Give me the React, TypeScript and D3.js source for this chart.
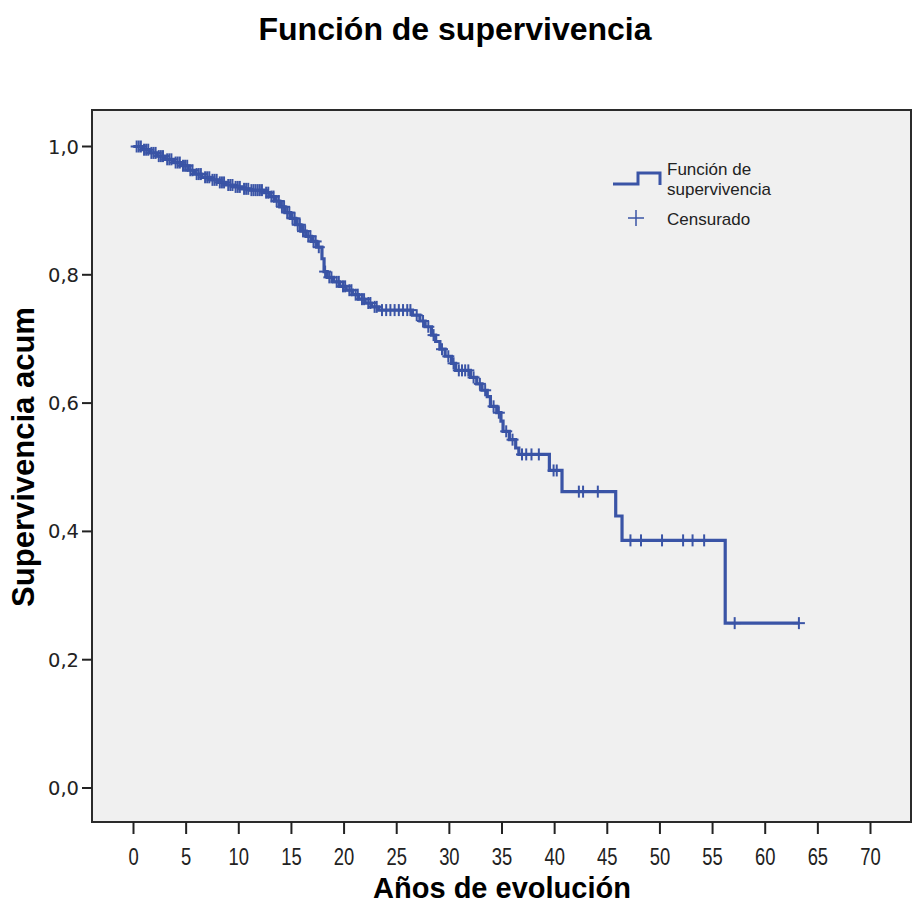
import React, { useEffect, useRef } from 'react';
import * as d3 from 'd3';

// Kaplan-Meier steps: time of event and survival right after it
const stepTimes = [
  0.8, 1.5, 2.2, 3.0, 3.8, 4.5, 5.2, 5.8, 6.5, 7.3, 8.0, 8.8, 9.5, 10.3, 11.0,
  12.4, 12.9, 13.4, 13.9, 14.4, 14.9, 15.4, 15.9, 16.4, 16.9, 17.4, 17.9, 18.1, 18.4,
  19.0, 19.6, 20.2, 20.8, 21.4, 22.0, 22.6, 23.3, 26.5, 27.2, 27.7, 28.3, 28.7, 29.1,
  29.6, 30.2, 30.6, 32.0, 32.6, 33.1, 33.6, 33.9, 34.5, 34.9, 35.1, 35.7, 36.3, 36.6,
  39.5, 40.7, 45.8, 46.4, 56.2,
];
const stepSurv = [
  0.995, 0.99, 0.985, 0.98, 0.975, 0.97, 0.963, 0.957, 0.952, 0.948, 0.944, 0.94, 0.937, 0.934, 0.932,
  0.928, 0.922, 0.915, 0.906, 0.897, 0.888, 0.878, 0.868, 0.86, 0.852, 0.843, 0.825, 0.805, 0.796,
  0.789, 0.782, 0.776, 0.769, 0.762, 0.756, 0.75, 0.745, 0.737, 0.728, 0.719, 0.706, 0.696, 0.684,
  0.673, 0.662, 0.651, 0.64, 0.63, 0.62, 0.61, 0.595, 0.585, 0.572, 0.556, 0.543, 0.53, 0.52,
  0.495, 0.462, 0.424, 0.386, 0.257,
];
// censored cases (years)
const censorTimes = [
  0.3, 0.5, 0.7, 1.0, 1.2, 1.4, 1.7, 1.9, 2.1, 2.4, 2.6, 2.8, 3.2, 3.4, 3.6, 4.0, 4.2, 4.4,
  4.7, 4.9, 5.1, 5.4, 5.6, 6.0, 6.2, 6.4, 6.8, 7.0, 7.2, 7.5, 7.7, 7.9, 8.2, 8.4, 8.6, 9.0,
  9.2, 9.4, 9.7, 9.9, 10.1, 10.5, 10.7, 10.9, 11.2, 11.4, 11.6, 11.8, 12.0, 12.2, 12.6,
  12.8, 13.1, 13.3, 13.6, 13.8, 14.1, 14.3, 14.6, 14.8, 15.1, 15.3, 15.6, 15.8, 16.1, 16.3,
  16.6, 16.8, 17.1, 17.3, 17.6, 18.2, 18.6, 18.8, 19.3, 19.5, 19.9, 20.1, 20.5, 20.7, 21.1,
  21.3, 21.7, 21.9, 22.3, 22.5, 22.9, 23.1, 23.6, 24.0, 24.4, 24.8, 25.2, 25.6, 26.0, 26.3,
  26.9, 27.5, 28.0, 28.5, 29.3, 29.9, 30.4, 30.9, 31.2, 31.5, 31.8, 32.3, 32.9, 33.4, 34.2,
  34.7, 35.4, 36.0, 36.9, 37.3, 37.8, 38.5, 39.9, 40.2, 42.3, 42.7, 44.1, 47.2, 48.2, 50.2,
  52.2, 53.1, 54.2, 57.1, 63.2,
];
const lastTime = 63.2;

const xTicks = [0, 5, 10, 15, 20, 25, 30, 35, 40, 45, 50, 55, 60, 65, 70];
const yTicks = [0, 0.2, 0.4, 0.6, 0.8, 1.0];

const title = 'Función de supervivencia';
const xTitle = 'Años de evolución';
const yTitle = 'Supervivencia acum';
const legendLine = ['Función de', 'supervivencia'];
const legendCensor = 'Censurado';

const blue = '#3a54a6';

const App = () => {
  const ref = useRef<SVGSVGElement | null>(null);

  useEffect(() => {
    const svg = d3.select(ref.current);
    svg.selectAll('*').remove();

    const frame = { left: 92, right: 911, top: 110, bottom: 822 };
    const x = d3.scaleLinear().domain([0, 70]).range([133.5, 870.5]);
    const y = d3.scaleLinear().domain([0, 1]).range([788, 146.5]);

    svg.append('rect').attr('width', 914).attr('height', 910).attr('fill', '#fff');

    // plot background + frame
    svg.append('rect')
      .attr('x', frame.left).attr('y', frame.top)
      .attr('width', frame.right - frame.left).attr('height', frame.bottom - frame.top)
      .attr('fill', '#f0f0f0').attr('stroke', '#2b2b2b').attr('stroke-width', 2);

    // y ticks
    const yAxis = svg.append('g');
    yTicks.forEach(v => {
      yAxis.append('line')
        .attr('x1', frame.left - 10).attr('x2', frame.left)
        .attr('y1', y(v)).attr('y2', y(v))
        .attr('stroke', '#222').attr('stroke-width', 2);
      yAxis.append('text')
        .attr('x', 79).attr('y', y(v) + 7)
        .attr('text-anchor', 'end')
        .style('font-family', '"DejaVu Sans", sans-serif')
        .style('font-size', '19.5px')
        .attr('fill', '#222')
        .text(d3.format('.1f')(v).replace('.', ','));
    });

    // x ticks
    const xAxis = svg.append('g');
    xTicks.forEach(v => {
      xAxis.append('line')
        .attr('x1', x(v)).attr('x2', x(v))
        .attr('y1', frame.bottom).attr('y2', frame.bottom + 12)
        .attr('stroke', '#222').attr('stroke-width', 2);
      xAxis.append('text')
        .attr('transform', `translate(${x(v)},865) scale(0.8,1)`)
        .attr('text-anchor', 'middle')
        .style('font-family', '"Liberation Sans", Arial, sans-serif')
        .style('font-size', '23px')
        .attr('fill', '#222')
        .text(String(v));
    });

    // titles
    svg.append('text')
      .attr('x', 455).attr('y', 40)
      .attr('text-anchor', 'middle')
      .style('font-family', '"Liberation Sans", Arial, sans-serif')
      .style('font-size', '32px').style('font-weight', 'bold')
      .text(title);

    svg.append('text')
      .attr('x', 502).attr('y', 898)
      .attr('text-anchor', 'middle')
      .style('font-family', '"Liberation Sans", Arial, sans-serif')
      .style('font-size', '29px').style('font-weight', 'bold')
      .text(xTitle);

    svg.append('text')
      .attr('transform', 'translate(34,457) rotate(-90)')
      .attr('text-anchor', 'middle')
      .style('font-family', '"Liberation Sans", Arial, sans-serif')
      .style('font-size', '31px').style('font-weight', 'bold')
      .text(yTitle);

    // survival curve
    const pts: [number, number][] = [[0, 1]];
    stepTimes.forEach((t, i) => pts.push([t, stepSurv[i]]));
    pts.push([lastTime, stepSurv[stepSurv.length - 1]]);

    const line = d3.line<[number, number]>()
      .x(d => x(d[0]))
      .y(d => y(d[1]))
      .curve(d3.curveStepAfter);

    svg.append('path')
      .datum(pts)
      .attr('d', line)
      .attr('fill', 'none')
      .attr('stroke', blue)
      .attr('stroke-width', 3.2);

    // censor marks
    const bis = d3.bisector((d: number) => d).right;
    const survAt = (t: number) => {
      const i = bis(stepTimes, t);
      return i === 0 ? 1 : stepSurv[i - 1];
    };
    const marks = svg.append('g').attr('stroke', blue).attr('stroke-width', 2);
    censorTimes.forEach(t => {
      const cx = x(t);
      const cy = y(survAt(t));
      marks.append('line').attr('x1', cx).attr('x2', cx).attr('y1', cy - 6).attr('y2', cy + 6);
      marks.append('line').attr('x1', cx - 6).attr('x2', cx + 6).attr('y1', cy).attr('y2', cy);
    });

    // legend
    const lg = svg.append('g');
    lg.append('path')
      .attr('d', 'M613,184 H638 V173 H660 V185')
      .attr('fill', 'none').attr('stroke', blue).attr('stroke-width', 3);
    lg.append('line').attr('x1', 636).attr('x2', 636).attr('y1', 210).attr('y2', 226)
      .attr('stroke', blue).attr('stroke-width', 1.5);
    lg.append('line').attr('x1', 628).attr('x2', 644).attr('y1', 218).attr('y2', 218)
      .attr('stroke', blue).attr('stroke-width', 1.5);
    legendLine.forEach((s, i) => {
      lg.append('text')
        .attr('x', 667).attr('y', 175 + i * 19.5)
        .style('font-family', '"Liberation Sans", Arial, sans-serif')
        .style('font-size', '17px')
        .attr('fill', '#222')
        .text(s);
    });
    lg.append('text')
      .attr('x', 667).attr('y', 225)
      .style('font-family', '"Liberation Sans", Arial, sans-serif')
      .style('font-size', '17px')
      .attr('fill', '#222')
      .text(legendCensor);
  }, []);

  return (
    <svg
      ref={ref}
      width={914}
      height={910}
      style={{ position: 'absolute', left: 0, top: 0 }}
    />
  );
};

export default App;
